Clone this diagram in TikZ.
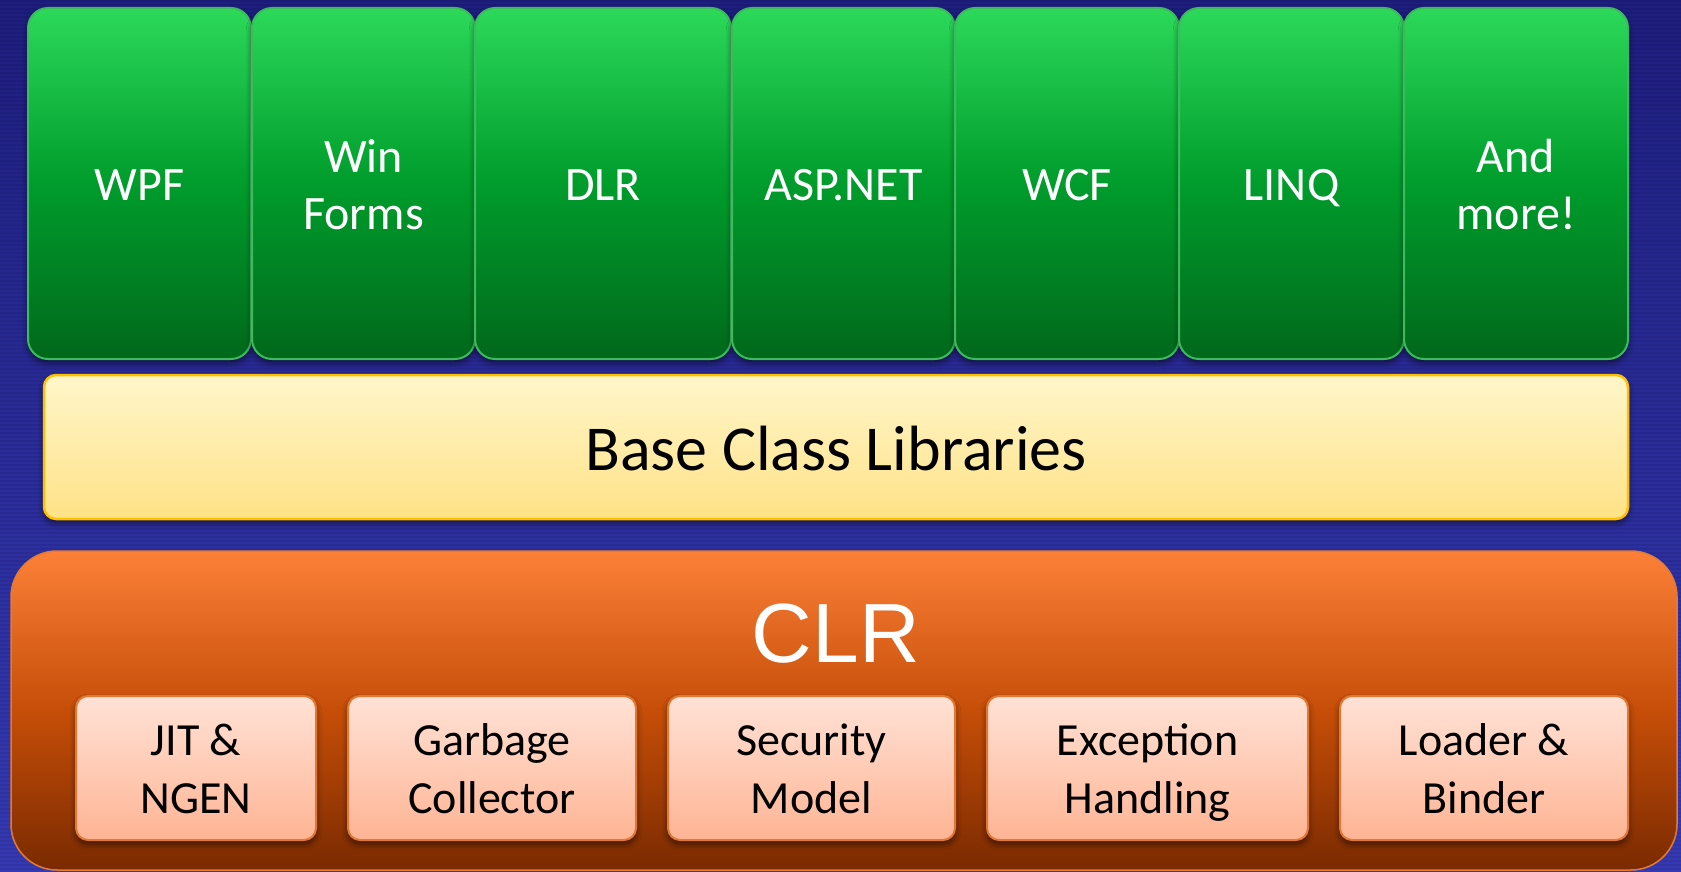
\documentclass[tikz,border=0pt]{standalone}
\usepackage{fontspec}
\setmainfont{Carlito}
\newfontfamily\arialf{Liberation Sans}
\usetikzlibrary{shadows.blur}
\definecolor{bgtop}{HTML}{1E1E7E}
\definecolor{bgbot}{HTML}{3539B2}
\definecolor{gtop}{HTML}{2CD95A}
\definecolor{gmid}{HTML}{009C2C}
\definecolor{gbot}{HTML}{00681B}
\definecolor{gedge}{HTML}{3DB95E}
\definecolor{ytop}{HTML}{FFF6CA}
\definecolor{ybot}{HTML}{FFE287}
\definecolor{yedge}{HTML}{FFC000}
\definecolor{otop}{HTML}{FC8038}
\definecolor{omid}{HTML}{C64E08}
\definecolor{obot}{HTML}{7A2A01}
\definecolor{oedge}{HTML}{E47B35}
\definecolor{stop}{HTML}{FFE2D6}
\definecolor{sbot}{HTML}{FFB494}
\definecolor{sedge}{HTML}{E27835}
\begin{document}
\begin{tikzpicture}[x=1pt,y=-1pt,
  shad/.style={blur shadow={shadow xshift=0pt, shadow yshift=-4pt, shadow blur radius=6pt, shadow opacity=55}},
  appbox/.style={rectangle, rounded corners=20pt, draw=gedge, line width=2pt,
    top color=gtop, bottom color=gbot, middle color=gmid, text=white,
    font=\fontsize{48}{57}\selectfont, align=center, minimum height=351pt, inner sep=0pt,
    text height=40pt, text depth=7pt, shad},
  twoline/.style={text height=97pt, text depth=6pt},
  bclbox/.style={rectangle, rounded corners=12pt, draw=yedge, line width=2.5pt,
    top color=ytop, bottom color=ybot, text=black,
    font=\fontsize{64}{70}\selectfont, minimum width=1584pt, minimum height=144pt, inner sep=0pt,
    text height=50pt, text depth=4pt, shad},
  clrbox/.style={rectangle, rounded corners=46pt, draw=oedge, line width=1.5pt,
    top color=otop, bottom color=obot, middle color=omid,
    minimum width=1666pt, minimum height=319pt, inner sep=0pt},
  subbox/.style={rectangle, rounded corners=12pt, draw=sedge, line width=2pt,
    top color=stop, bottom color=sbot, text=black,
    font=\fontsize{46}{58}\selectfont, align=center, minimum height=144pt, inner sep=0pt,
    text height=96pt, text depth=6pt, shad},
  clrtext/.style={text=white, font=\arialf\fontsize{84}{90}\selectfont, inner sep=0pt, anchor=base}
]
\useasboundingbox (0,0) rectangle (1681,872);
\shade[top color=bgtop, bottom color=bgbot] (0,0) rectangle (1681,872);
\foreach \yy in {1,5,...,872} \draw[black, opacity=0.07, line width=1.5pt] (0,\yy) -- (1681,\yy);

% application frameworks
\node[appbox, minimum width=223pt] (wpf) at (139.5,183.5) {WPF};
\node[appbox, twoline, minimum width=223pt] (winforms) at (363.5,183.5) {Win\\Forms};
\node[appbox, minimum width=256pt] (dlr) at (603,183.5) {DLR};
\node[appbox, minimum width=223pt] (asp) at (843.5,183.5) {ASP.NET};
\node[appbox, minimum width=224pt] (wcf) at (1067,183.5) {WCF};
\node[appbox, minimum width=225pt] (linq) at (1291.5,183.5) {LINQ};
\node[appbox, twoline, minimum width=224pt] (more) at (1516,183.5) {And\\more!};

% base class libraries
\node[bclbox] (bcl) at (836,447) {Base Class Libraries};

% CLR
\node[clrbox] (clr) at (844,710.5) {};
\node[clrtext] (clrlabel) at (836,662) {CLR};
\node[subbox, minimum width=240pt] (jit) at (196,768) {JIT \&\\NGEN};
\node[subbox, minimum width=288pt] (gc) at (492,768) {Garbage\\Collector};
\node[subbox, minimum width=287pt] (sec) at (811.5,768) {Security\\Model};
\node[subbox, minimum width=321pt] (exc) at (1147.5,768) {Exception\\Handling};
\node[subbox, minimum width=288pt] (loader) at (1484,768) {Loader \&\\Binder};
\end{tikzpicture}
\end{document}
